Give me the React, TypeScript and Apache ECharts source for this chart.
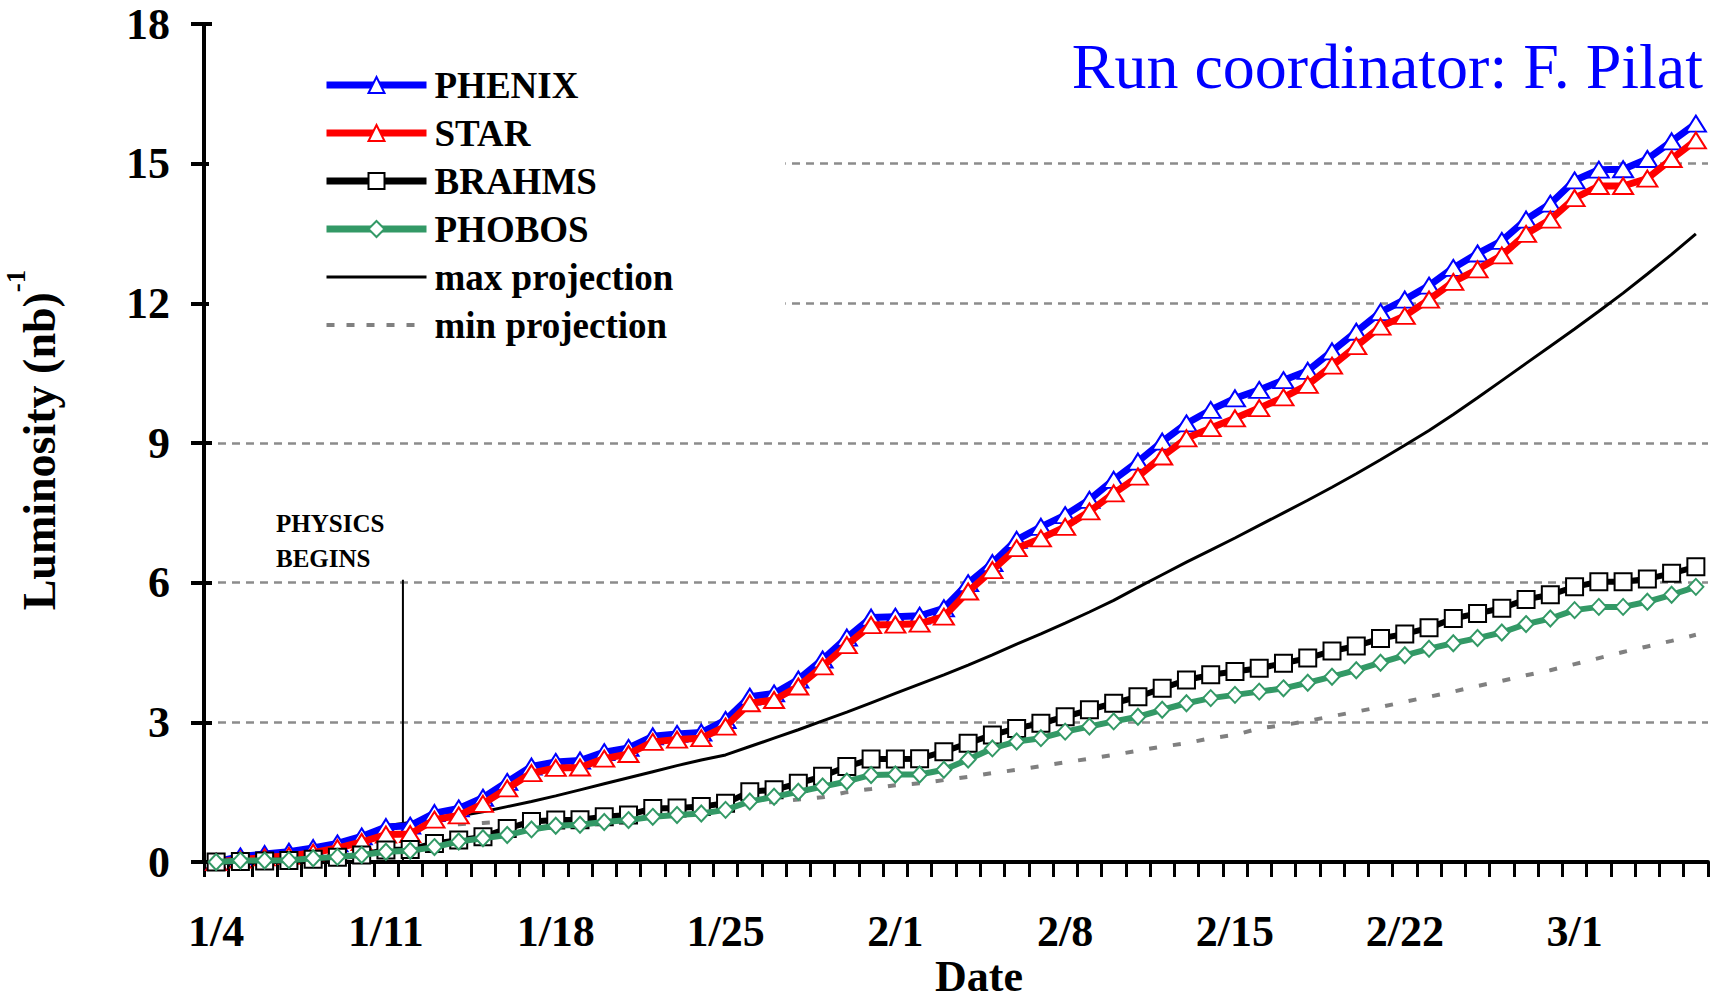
import React, { useEffect, useRef } from 'react';
import * as echarts from 'echarts';

const DATES = [
  '1/4', '1/5', '1/6', '1/7', '1/8', '1/9', '1/10', '1/11', '1/12', '1/13', '1/14', '1/15', '1/16', '1/17',
  '1/18', '1/19', '1/20', '1/21', '1/22', '1/23', '1/24', '1/25', '1/26', '1/27', '1/28', '1/29', '1/30', '1/31',
  '2/1', '2/2', '2/3', '2/4', '2/5', '2/6', '2/7', '2/8', '2/9', '2/10', '2/11', '2/12', '2/13', '2/14',
  '2/15', '2/16', '2/17', '2/18', '2/19', '2/20', '2/21', '2/22', '2/23', '2/24', '2/25', '2/26', '2/27', '2/28',
  '3/1', '3/2', '3/3', '3/4', '3/5', '3/6',
];

const PHENIX = [
  0, 0.12, 0.17, 0.22, 0.3, 0.4, 0.55, 0.75, 0.78, 1.05, 1.15, 1.38, 1.72, 2.05,
  2.15, 2.18, 2.36, 2.45, 2.7, 2.75, 2.78, 3.05, 3.55, 3.62, 3.92, 4.35, 4.82, 5.25,
  5.27, 5.29, 5.45, 5.99, 6.42, 6.92, 7.2, 7.45, 7.78, 8.21, 8.6, 9.03, 9.42, 9.71,
  9.96, 10.14, 10.35, 10.55, 10.97, 11.39, 11.81, 12.08, 12.38, 12.76, 13.07, 13.34, 13.8, 14.14,
  14.64, 14.87, 14.88, 15.1, 15.48, 15.86,
];

const STAR = [
  0, 0.05, 0.1, 0.13, 0.2, 0.3, 0.43, 0.59, 0.6, 0.91, 1.0, 1.25, 1.58, 1.91,
  2.02, 2.03, 2.22, 2.32, 2.58, 2.63, 2.66, 2.91, 3.41, 3.48, 3.77, 4.2, 4.66, 5.09,
  5.1, 5.12, 5.27, 5.81, 6.27, 6.74, 6.95, 7.2, 7.53, 7.92, 8.28, 8.71, 9.1, 9.32,
  9.53, 9.75, 9.98, 10.25, 10.66, 11.08, 11.5, 11.73, 12.08, 12.46, 12.73, 13.03, 13.49, 13.8,
  14.26, 14.52, 14.52, 14.68, 15.1, 15.5,
];

const BRAHMS = [
  0, 0.01, 0.02, 0.03, 0.06, 0.1, 0.15, 0.26, 0.27, 0.4, 0.47, 0.54, 0.72, 0.87,
  0.9, 0.91, 0.97, 1.01, 1.15, 1.16, 1.19, 1.26, 1.51, 1.55, 1.69, 1.84, 2.05, 2.21,
  2.21, 2.22, 2.37, 2.55, 2.73, 2.87, 2.98, 3.12, 3.27, 3.41, 3.55, 3.73, 3.91, 4.02,
  4.09, 4.16, 4.27, 4.38, 4.53, 4.64, 4.8, 4.9, 5.03, 5.23, 5.34, 5.45, 5.64, 5.74,
  5.91, 6.02, 6.02, 6.08, 6.2, 6.34,
];

const PHOBOS = [
  0, 0.03, 0.03, 0.04, 0.08, 0.11, 0.15, 0.22, 0.24, 0.32, 0.44, 0.51, 0.58, 0.7,
  0.78, 0.8, 0.86, 0.9, 0.97, 1.01, 1.04, 1.12, 1.3, 1.4, 1.51, 1.62, 1.73, 1.87,
  1.88, 1.88, 1.98, 2.2, 2.44, 2.59, 2.66, 2.8, 2.91, 3.02, 3.12, 3.27, 3.41, 3.52,
  3.59, 3.66, 3.73, 3.85, 3.98, 4.12, 4.28, 4.44, 4.58, 4.7, 4.81, 4.93, 5.11, 5.23,
  5.41, 5.48, 5.48, 5.59, 5.74, 5.91,
];

const MAX_PROJECTION = [
  '-', '-', '-', '-', '-', '-', '-', 0.78, 0.85, 0.92, 0.99, 1.08, 1.19, 1.3,
  1.42, 1.55, 1.68, 1.81, 1.94, 2.07, 2.19, 2.3, 2.48, 2.66, 2.84, 3.03, 3.22, 3.42,
  3.62, 3.82, 4.02, 4.23, 4.45, 4.68, 4.9, 5.13, 5.37, 5.62, 5.9, 6.17, 6.44, 6.7,
  6.96, 7.23, 7.5, 7.77, 8.05, 8.34, 8.64, 8.95, 9.27, 9.61, 9.97, 10.34, 10.71, 11.08,
  11.45, 11.83, 12.22, 12.63, 13.05, 13.49,
];

const MIN_PROJECTION = [
  '-', '-', '-', '-', '-', '-', '-', 0.75, 0.77, 0.79, 0.81, 0.84, 0.87, 0.9,
  0.93, 0.97, 1.0, 1.04, 1.08, 1.12, 1.16, 1.2, 1.25, 1.29, 1.34, 1.39, 1.5, 1.57,
  1.65, 1.69, 1.76, 1.83, 1.91, 1.98, 2.06, 2.14, 2.22, 2.3, 2.39, 2.48, 2.55, 2.66,
  2.73, 2.87, 2.94, 3.03, 3.13, 3.23, 3.33, 3.44, 3.55, 3.66, 3.78, 3.89, 4.01, 4.12,
  4.25, 4.38, 4.51, 4.63, 4.75, 4.88,
];

// "PHYSICS BEGINS" marker: position in days from 1/4 and its top value
const PHYSICS_BEGINS_LINE = [
  [7.7, 0],
  [7.7, 6.06],
];

const Y_MIN = 0;
const Y_MAX = 18;
const Y_INTERVAL = 3;

const FONT = '"Liberation Serif", "Times New Roman", serif';

const COLORS = {
  PHENIX: '#0000ff',
  STAR: '#ff0000',
  BRAHMS: '#000000',
  PHOBOS: '#339966',
  max: '#000000',
  min: '#808080',
};

export default function App() {
  const ref = useRef<HTMLDivElement>(null);

  useEffect(() => {
    if (!ref.current) return;
    const chart = echarts.init(ref.current, null, { renderer: 'svg' });

    const lineSeries = (name: string, data: any[], color: string, symbol: string, size: any, width: number, z: number) => ({
      name,
      type: 'line',
      data,
      symbol,
      symbolSize: size,
      showSymbol: true,
      showAllSymbol: true,
      z,
      lineStyle: { color, width },
      itemStyle: { color: '#ffffff', borderColor: color, borderWidth: 2 },
      emphasis: { disabled: true },
    });

    const markerLegend = (name: string, color: string) => ({
      name,
      lineStyle: { color, width: 7, type: 'solid' },
      itemStyle: { color: '#ffffff', borderColor: color, borderWidth: 2 },
    });

    chart.setOption({
      animation: false,
      backgroundColor: '#ffffff',
      grid: {
        left: 204,
        right: 7,
        top: 24,
        bottom: 137,
        containLabel: false,
        outerBoundsMode: 'none',
      },
      xAxis: [
        {
          type: 'category',
          data: DATES,
          boundaryGap: true,
          name: 'Date',
          nameLocation: 'middle',
          nameGap: 96,
          nameMoveOverlap: false,
          nameTextStyle: {
            fontFamily: FONT,
            fontWeight: 'bold',
            fontSize: 44,
            lineHeight: 36,
            color: '#000',
            padding: [0, 0, 0, 46],
          },
          axisLine: { show: true, onZero: false, lineStyle: { color: '#000', width: 4 } },
          axisTick: { show: true, interval: 0, alignWithLabel: false, length: 15, lineStyle: { color: '#000', width: 3 } },
          axisLabel: {
            interval: 6,
            margin: 47,
            fontFamily: FONT,
            fontWeight: 'bold',
            fontSize: 44,
            color: '#000',
          },
          splitLine: { show: false },
        },
        {
          type: 'value',
          min: -0.5,
          max: DATES.length - 0.5,
          show: false,
          axisLine: { onZero: false },
        },
      ],
      yAxis: [
        {
          type: 'value',
          min: Y_MIN,
          max: Y_MAX,
          interval: Y_INTERVAL,
          axisLine: { show: true, onZero: false, lineStyle: { color: '#000', width: 4 } },
          axisTick: { show: true, inside: false, length: 13, lineStyle: { color: '#000', width: 4 } },
          axisLabel: {
            margin: 34,
            fontFamily: FONT,
            fontWeight: 'bold',
            fontSize: 44,
            color: '#000',
          },
          splitLine: {
            show: true,
            showMinLine: false,
            showMaxLine: false,
            lineStyle: { color: '#8c8c8c', width: 2.5, type: [8, 6] },
          },
        },
        {
          type: 'value',
          min: Y_MIN,
          max: Y_MAX,
          interval: Y_INTERVAL,
          position: 'left',
          axisLine: { show: false, onZero: false },
          axisTick: { show: true, inside: true, length: 8, lineStyle: { color: '#000', width: 4 } },
          axisLabel: { show: false },
          splitLine: { show: false },
        },
      ],
      legend: {
        orient: 'vertical',
        left: 209,
        top: 35,
        padding: [30, 112, 20, 114],
        backgroundColor: '#ffffff',
        itemWidth: 100,
        itemHeight: 20,
        itemGap: 8,
        selectedMode: false,
        textStyle: {
          fontFamily: FONT,
          fontWeight: 'bold',
          fontSize: 37,
          color: '#000',
          lineHeight: 40,
          padding: [0, 0, 0, 3],
        },
        data: [
          markerLegend('PHENIX', COLORS.PHENIX),
          markerLegend('STAR', COLORS.STAR),
          markerLegend('BRAHMS', COLORS.BRAHMS),
          markerLegend('PHOBOS', COLORS.PHOBOS),
          {
            name: 'max projection',
            lineStyle: { color: COLORS.max, width: 3, type: 'solid' },
            itemStyle: { color: 'rgba(0,0,0,0)', borderColor: 'rgba(0,0,0,0)', borderWidth: 0, opacity: 0 },
          },
          {
            name: 'min projection',
            lineStyle: { color: COLORS.min, width: 4, type: [8, 12] },
            itemStyle: { color: 'rgba(0,0,0,0)', borderColor: 'rgba(0,0,0,0)', borderWidth: 0, opacity: 0 },
          },
        ],
      },
      graphic: [
        {
          type: 'text',
          x: 32,
          y: 440,
          rotation: Math.PI / 2,
          style: {
            text: '{a|Luminosity (nb)}{b|-1}',
            align: 'center',
            verticalAlign: 'middle',
            fill: '#000',
            rich: {
              a: { fontFamily: FONT, fontWeight: 'bold', fontSize: 46, lineHeight: 60, verticalAlign: 'bottom', fill: '#000' },
              b: { fontFamily: FONT, fontWeight: 'bold', fontSize: 27, lineHeight: 60, verticalAlign: 'top', fill: '#000' },
            },
          },
        },
        {
          type: 'text',
          right: 12,
          top: 34,
          style: {
            text: 'Run coordinator: F. Pilat',
            fill: '#0000ff',
            fontFamily: FONT,
            fontSize: 64,
          },
        },
        {
          type: 'text',
          left: 276,
          top: 506,
          style: {
            text: 'PHYSICS\nBEGINS',
            fill: '#000',
            fontFamily: FONT,
            fontWeight: 'bold',
            fontSize: 25,
            lineHeight: 35,
          },
        },
      ],
      series: [
        lineSeries('PHENIX', PHENIX, COLORS.PHENIX, 'triangle', [20, 16], 7, 3),
        lineSeries('STAR', STAR, COLORS.STAR, 'triangle', [20, 16], 7, 4),
        lineSeries('BRAHMS', BRAHMS, COLORS.BRAHMS, 'rect', 17, 6, 5),
        lineSeries('PHOBOS', PHOBOS, COLORS.PHOBOS, 'diamond', [15, 16], 6, 6),
        {
          name: 'max projection',
          type: 'line',
          data: MAX_PROJECTION,
          symbol: 'none',
          z: 2,
          lineStyle: { color: COLORS.max, width: 3 },
          itemStyle: { color: 'rgba(0,0,0,0)' },
          emphasis: { disabled: true },
        },
        {
          name: 'min projection',
          type: 'line',
          data: MIN_PROJECTION,
          symbol: 'none',
          z: 2,
          lineStyle: { color: COLORS.min, width: 4, type: [8, 16] },
          itemStyle: { color: 'rgba(0,0,0,0)' },
          emphasis: { disabled: true },
        },
        {
          name: 'physics begins',
          type: 'line',
          xAxisIndex: 1,
          yAxisIndex: 0,
          data: PHYSICS_BEGINS_LINE,
          symbol: 'none',
          z: 1,
          lineStyle: { color: '#000000', width: 2 },
          emphasis: { disabled: true },
        },
      ],
    });

    return () => chart.dispose();
  }, []);

  return (
    <div
      ref={ref}
      style={{ position: 'absolute', left: 0, top: 0, width: 1715, height: 999, background: '#fff' }}
    />
  );
}
